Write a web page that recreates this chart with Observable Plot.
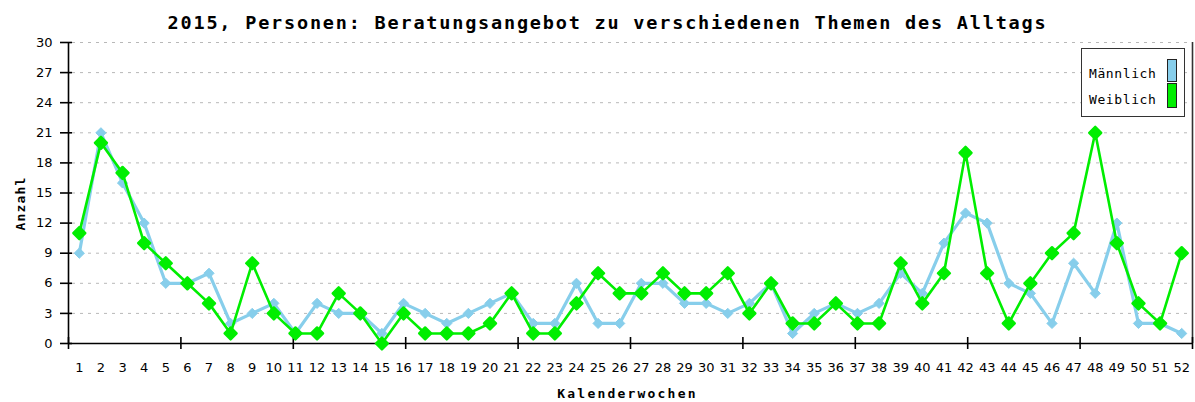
<!DOCTYPE html>
<html>
<head>
<meta charset="utf-8">
<script src="https://cdn.jsdelivr.net/npm/d3@7"></script>
<script src="https://cdn.jsdelivr.net/npm/@observablehq/plot@0.6"></script>
<style>
  body { margin: 0; background: #fff; }
  #wrap { position: relative; width: 1195px; height: 402px; }
  .legend { position: absolute; left: 1081px; top: 48px; width: 102px; height: 67px;
            border: 1.5px solid #333; background: #fff; box-sizing: content-box; }
  .legend .lbl { position: absolute; left: 7px; font-family: "DejaVu Sans Mono", monospace;
                 font-size: 13px; letter-spacing: 0.6px; color: #000; line-height: 14px; }
  .legend .sw { position: absolute; left: 85px; width: 8px; border: 1px solid #222; }
</style>
</head>
<body>
<div id="wrap"></div>
<script>
const title = "2015, Personen: Beratungsangebot zu verschiedenen Themen des Alltags";
const xLabel = "Kalenderwochen";
const yLabel = "Anzahl";
const weeks = d3.range(1, 53);
const maennlich = [9,21,16,12,6,6,7,2,3,4,1,4,3,3,1,4,3,2,3,4,5,2,2,6,2,2,6,6,4,4,3,4,6,1,3,4,3,4,7,5,10,13,12,6,5,2,8,5,12,2,2,1];
const weiblich  = [11,20,17,10,8,6,4,1,8,3,1,1,5,3,0,3,1,1,1,2,5,1,1,4,7,5,5,7,5,5,7,3,6,2,2,4,2,2,8,4,7,19,7,2,6,9,11,21,10,4,2,9];
const yTicks = d3.range(0, 31, 3);
const seriesNames = ["Männlich", "Weiblich"];
const seriesColors = ["#87ceeb", "#00ee00"];

const xMin = 0.5, xMax = 52.5;
const xTickMarks = d3.range(11).map(i => xMin + i * (xMax - xMin) / 10);

const dataM = weeks.map((w, i) => ({week: w, value: maennlich[i]}));
const dataW = weeks.map((w, i) => ({week: w, value: weiblich[i]}));

const chart = Plot.plot({
  width: 1195,
  height: 402,
  marginLeft: 68,
  marginRight: 3,
  marginTop: 42,
  marginBottom: 59,
  x: {type: "linear", domain: [xMin, xMax], axis: null},
  y: {type: "linear", domain: [0, 30], axis: null},
  style: {fontFamily: "DejaVu Sans", fontSize: "13px", background: "#fff", overflow: "visible"},
  marks: [
    Plot.ruleY(yTicks.filter(d => d > 0), {y: d => d, stroke: "#b8b8b8", strokeWidth: 1, strokeDasharray: "3,5", insetLeft: 4}),
    Plot.ruleX([xMin], {stroke: "#000", strokeWidth: 1.6}),
    Plot.ruleX([xMax], {stroke: "#333", strokeWidth: 1.6}),
    Plot.ruleY([0], {stroke: "#000", strokeWidth: 1.6}),
    Plot.ruleX(xTickMarks, {x: d => d, y1: 0, y2: 0, insetTop: -6, insetBottom: -6, stroke: "#000", strokeWidth: 1.6}),
    Plot.ruleY(yTicks, {y: d => d, x1: xMin, x2: xMin, insetLeft: -8, insetRight: -4, stroke: "#000", strokeWidth: 1.6}),
    Plot.text(weeks, {x: d => d, y: 0, dy: 24.5, text: d => String(d), fontSize: 13, fill: "#000"}),
    Plot.text(yTicks, {x: xMin, y: d => d, dx: -16, text: d => String(d), textAnchor: "end", fontSize: 13, fill: "#000"}),
    Plot.line(dataM, {x: "week", y: "value", stroke: seriesColors[0], strokeWidth: 3.2}),
    Plot.dot(dataM, {x: "week", y: "value", symbol: "diamond2", r: 4.6, fill: seriesColors[0], stroke: seriesColors[0], strokeWidth: 1}),
    Plot.line(dataW, {x: "week", y: "value", stroke: seriesColors[1], strokeWidth: 2.6}),
    Plot.dot(dataW, {x: "week", y: "value", symbol: "diamond2", r: 5.4, fill: seriesColors[1], stroke: seriesColors[1], strokeWidth: 2.4, strokeLinejoin: "round"}),
    Plot.text([title], {frameAnchor: "top", lineAnchor: "middle", dx: -23, dy: -19, fontFamily: "DejaVu Sans Mono", fontWeight: "bold", fontSize: 18.5, fill: "#000"}),
    Plot.text([xLabel], {frameAnchor: "bottom", lineAnchor: "middle", dx: -3, dy: 50, fontFamily: "DejaVu Sans Mono", fontWeight: "bold", fontSize: 13, fill: "#000"}),
    Plot.text([yLabel], {frameAnchor: "left", textAnchor: "middle", lineAnchor: "middle", dx: -48, dy: 10.5, rotate: -90, fontFamily: "DejaVu Sans Mono", fontWeight: "bold", fontSize: 13, fill: "#000"})
  ]
});

// letter spacing for the monospace labels
const spacing = new Map([[title, "1.8px"], [xLabel, "2.2px"], [yLabel, "1.2px"]]);
d3.select(chart).selectAll("text").each(function() {
  const t = this.textContent;
  if (spacing.has(t)) this.style.letterSpacing = spacing.get(t);
});

const wrap = document.getElementById("wrap");
wrap.appendChild(chart);

const legend = document.createElement("div");
legend.className = "legend";
const rows = [{top: 18, swTop: 10, swH: 21}, {top: 44, swTop: 34, swH: 23}];
seriesNames.forEach((name, i) => {
  const l = document.createElement("span");
  l.className = "lbl";
  l.textContent = name;
  l.style.top = rows[i].top + "px";
  legend.appendChild(l);
  const s = document.createElement("span");
  s.className = "sw";
  s.style.top = rows[i].swTop + "px";
  s.style.height = rows[i].swH + "px";
  s.style.background = seriesColors[i];
  legend.appendChild(s);
});
wrap.appendChild(legend);
</script>
</body>
</html>
